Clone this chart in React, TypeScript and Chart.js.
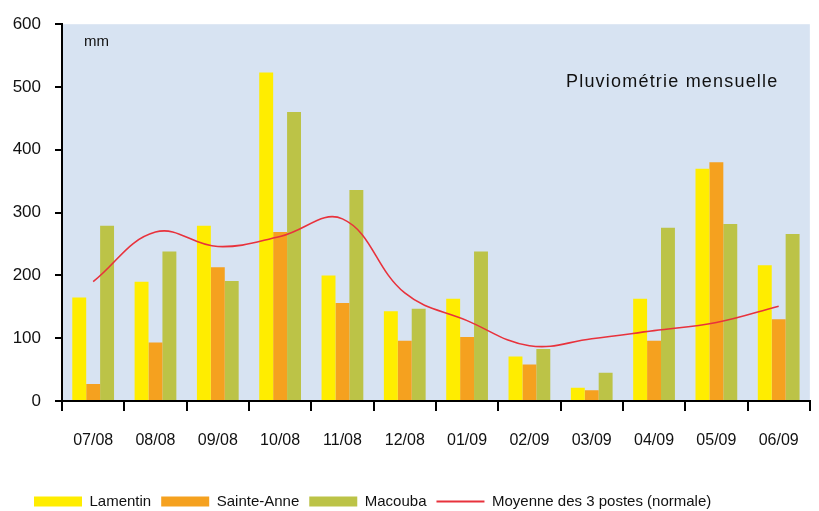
import React, { useEffect, useRef } from "react";
import { Chart, registerables } from "chart.js";

Chart.register(...registerables);

const categories = ["07/08", "08/08", "09/08", "10/08", "11/08", "12/08", "01/09", "02/09", "03/09", "04/09", "05/09", "06/09"];
const lamentin = [165, 190, 279, 523, 200, 143, 163, 71, 21, 163, 370, 216];
const sainteAnne = [27, 93, 213, 269, 156, 96, 102, 58, 17, 96, 380, 130];
const macouba = [279, 238, 191, 460, 336, 147, 238, 83, 45, 276, 282, 266];
const moyenne = [190, 269, 246, 262, 290, 172, 128, 88, 99, 112, 125, 151];
const yTicks = [0, 100, 200, 300, 400, 500, 600];

const FONT = "'Liberation Sans', Arial, sans-serif";

const bgPlugin = {
  id: "plotBg",
  beforeDraw(chart: any) {
    const { ctx, chartArea } = chart;
    ctx.save();
    ctx.fillStyle = "#d7e3f2";
    ctx.fillRect(chartArea.left, chartArea.top, chartArea.right - chartArea.left, chartArea.bottom - chartArea.top);
    ctx.restore();
  },
};

const legendShift = {
  id: "legendShift",
  afterLayout(chart: any) {
    if (chart.legend) {
      chart.legend.left += 24;
    }
  },
};

const textPlugin = {
  id: "plotTexts",
  afterDatasetsDraw(chart: any) {
    const { ctx, chartArea } = chart;
    ctx.save();
    ctx.fillStyle = "#111";
    ctx.textBaseline = "middle";
    ctx.textAlign = "left";
    ctx.font = `15px ${FONT}`;
    ctx.fillText("mm", chartArea.left + 22, chartArea.top + 18);
    ctx.font = `18px ${FONT}`;
    (ctx as any).letterSpacing = "1.2px";
    ctx.fillText("Pluviométrie mensuelle", chartArea.left + 504, chartArea.top + 58);
    ctx.restore();
  },
};

export default function App() {
  const ref = useRef<HTMLCanvasElement | null>(null);
  useEffect(() => {
    document.body.style.margin = "0";
    document.body.style.overflow = "hidden";
    const canvas = ref.current!;
    const chart = new Chart(canvas, {
      type: "bar",
      data: {
        labels: categories,
        datasets: [
          { label: "Lamentin", data: lamentin, backgroundColor: "#ffed00", order: 1, categoryPercentage: 0.67, barPercentage: 1.0 } as any,
          { label: "Sainte-Anne", data: sainteAnne, backgroundColor: "#f5a11f", order: 1, categoryPercentage: 0.67, barPercentage: 1.0 } as any,
          { label: "Macouba", data: macouba, backgroundColor: "#bcc347", order: 1, categoryPercentage: 0.67, barPercentage: 1.0 } as any,
          {
            type: "line",
            label: "Moyenne des 3 postes (normale)",
            data: moyenne,
            borderColor: "#e8323c",
            backgroundColor: "#e8323c",
            borderWidth: 1.6,
            pointRadius: 0,
            tension: 0.4,
            order: 0,
          } as any,
        ],
      },
      options: {
        animation: false,
        responsive: true,
        maintainAspectRatio: false,
        layout: { padding: { top: 20, right: 7, left: 0, bottom: 0 } },
        plugins: {
          tooltip: { enabled: false },
          legend: {
            position: "bottom",
            align: "start",
            labels: {
              usePointStyle: true,
              pointStyleWidth: 48,
              boxHeight: 10,
              padding: 10,
              color: "#111",
              font: { family: FONT, size: 15 },
              sort: (a: any, b: any) => a.datasetIndex - b.datasetIndex,
              generateLabels: (chart: any) => {
                const items = Chart.defaults.plugins.legend.labels.generateLabels(chart);
                return items.map((it: any) => {
                  if (it.datasetIndex === 3) {
                    return { ...it, pointStyle: "line", lineWidth: 2, strokeStyle: "#e8323c" };
                  }
                  return { ...it, pointStyle: "rect", lineWidth: 0 };
                });
              },
            },
          },
        },
        scales: {
          x: {
            offset: true,
            grid: { display: true, drawOnChartArea: false, offset: true, tickLength: 10, color: "#000", lineWidth: 2 },
            border: { display: true, color: "#000", width: 2 },
            ticks: { color: "#111", font: { family: FONT, size: 16 }, padding: 20, maxRotation: 0 },
            afterFit: (scale: any) => {
              scale.height = 83;
            },
          },
          y: {
            min: 0,
            max: 600,
            afterBuildTicks: (scale: any) => {
              scale.ticks = yTicks.map((v) => ({ value: v }));
            },
            grid: { display: true, drawOnChartArea: false, tickLength: 7, color: "#000", lineWidth: 2 },
            border: { display: true, color: "#000", width: 2 },
            ticks: { color: "#111", font: { family: FONT, size: 17 }, padding: 14 },
            afterFit: (scale: any) => {
              scale.width = 62;
            },
          },
        },
      } as any,
      plugins: [bgPlugin, textPlugin, legendShift],
    });
    return () => chart.destroy();
  }, []);
  return (
    <div style={{ width: 819, height: 511, overflow: "hidden" }}>
      <div style={{ position: "relative", width: 819, height: 519 }}>
        <canvas ref={ref} />
      </div>
    </div>
  );
}
